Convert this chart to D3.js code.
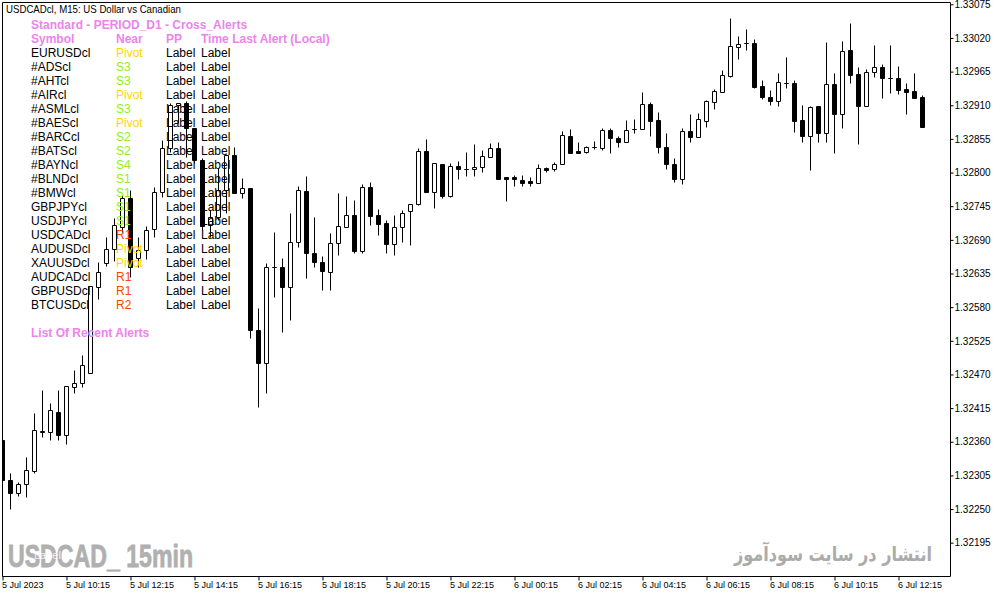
<!DOCTYPE html>
<html><head><meta charset="utf-8">
<script src="https://cdn.jsdelivr.net/npm/d3@7"></script>
<style>html,body{margin:0;padding:0;background:#fff;overflow:hidden}svg{display:block}</style>
</head><body>
<svg id="chart" width="1003" height="597"></svg>
<script>
// ---- data (USDCADcl M15) ----
const open = [1.32363,1.32297,1.32276,1.32291,1.32312,1.32376,1.32376,1.32409,1.32371,1.32449,1.32456,1.32472,1.32613,1.32652,1.32675,1.32711,1.32758,1.32660,1.32673,1.32708,1.32768,1.32840,1.32910,1.32914,1.32873,1.32820,1.32714,1.32727,1.32771,1.32829,1.32767,1.32775,1.32543,1.32489,1.32646,1.32646,1.32613,1.32686,1.32770,1.32668,1.32654,1.32637,1.32685,1.32711,1.32731,1.32672,1.32776,1.32731,1.32718,1.32683,1.32711,1.32737,1.32749,1.32835,1.32768,1.32814,1.32762,1.32811,1.32806,1.32806,1.32809,1.32825,1.32840,1.32793,1.32793,1.32788,1.32786,1.32783,1.32807,1.32806,1.32814,1.32860,1.32835,1.32834,1.32842,1.32840,1.32870,1.32856,1.32850,1.32871,1.32871,1.32912,1.32886,1.32842,1.32814,1.32789,1.32868,1.32858,1.32884,1.32915,1.32932,1.32958,1.33005,1.33012,1.33012,1.32941,1.32923,1.32917,1.32946,1.32946,1.32886,1.32860,1.32909,1.32865,1.32945,1.32896,1.33000,1.32961,1.32909,1.32964,1.32972,1.32955,1.32955,1.32937,1.32933,1.32923];
const high = [1.32366,1.32309,1.32294,1.32335,1.32407,1.32445,1.32423,1.32445,1.32451,1.32477,1.32502,1.32615,1.32654,1.32695,1.32726,1.32763,1.32771,1.32695,1.32713,1.32776,1.32853,1.32914,1.32914,1.32917,1.32873,1.32824,1.32739,1.32807,1.32830,1.32842,1.32791,1.32775,1.32579,1.32652,1.32703,1.32660,1.32734,1.32778,1.32794,1.32727,1.32664,1.32701,1.32767,1.32762,1.32755,1.32781,1.32785,1.32740,1.32722,1.32731,1.32739,1.32749,1.32840,1.32855,1.32816,1.32814,1.32816,1.32819,1.32834,1.32847,1.32837,1.32848,1.32850,1.32793,1.32796,1.32796,1.32793,1.32814,1.32809,1.32817,1.32868,1.32871,1.32850,1.32843,1.32852,1.32873,1.32873,1.32860,1.32886,1.32888,1.32932,1.32915,1.32899,1.32865,1.32824,1.32873,1.32896,1.32897,1.32919,1.32937,1.32968,1.33053,1.33023,1.33035,1.33018,1.32951,1.32935,1.32963,1.32989,1.32951,1.32910,1.32909,1.32909,1.33013,1.32963,1.33015,1.33044,1.32972,1.32969,1.33008,1.32977,1.33008,1.32974,1.32946,1.32963,1.32927];
const low = [1.32294,1.32250,1.32271,1.32270,1.32309,1.32368,1.32363,1.32363,1.32356,1.32440,1.32449,1.32472,1.32593,1.32647,1.32655,1.32703,1.32629,1.32646,1.32659,1.32695,1.32760,1.32834,1.32881,1.32825,1.32816,1.32706,1.32695,1.32722,1.32734,1.32767,1.32758,1.32530,1.32417,1.32440,1.32597,1.32539,1.32559,1.32678,1.32628,1.32646,1.32608,1.32608,1.32665,1.32711,1.32668,1.32668,1.32714,1.32698,1.32668,1.32665,1.32686,1.32682,1.32747,1.32768,1.32742,1.32758,1.32760,1.32789,1.32794,1.32794,1.32801,1.32825,1.32789,1.32753,1.32778,1.32778,1.32778,1.32783,1.32801,1.32803,1.32814,1.32832,1.32832,1.32832,1.32838,1.32837,1.32832,1.32842,1.32850,1.32865,1.32871,1.32860,1.32832,1.32806,1.32785,1.32781,1.32850,1.32858,1.32874,1.32904,1.32932,1.32956,1.32986,1.33000,1.32938,1.32920,1.32910,1.32909,1.32938,1.32866,1.32850,1.32804,1.32850,1.32850,1.32832,1.32873,1.32946,1.32847,1.32909,1.32956,1.32922,1.32930,1.32928,1.32896,1.32922,1.32874];
const close = [1.32297,1.32276,1.32291,1.32314,1.32379,1.32378,1.32412,1.32371,1.32451,1.32456,1.32485,1.32615,1.32637,1.32675,1.32714,1.32758,1.32646,1.32673,1.32706,1.32768,1.32840,1.32910,1.32914,1.32873,1.32820,1.32713,1.32727,1.32771,1.32829,1.32767,1.32775,1.32543,1.32489,1.32646,1.32646,1.32613,1.32686,1.32771,1.32668,1.32654,1.32639,1.32685,1.32713,1.32731,1.32672,1.32776,1.32729,1.32716,1.32683,1.32711,1.32734,1.32749,1.32835,1.32768,1.32816,1.32762,1.32811,1.32806,1.32806,1.32809,1.32827,1.32840,1.32789,1.32789,1.32789,1.32783,1.32783,1.32807,1.32804,1.32814,1.32861,1.32832,1.32832,1.32842,1.32842,1.32870,1.32856,1.32850,1.32870,1.32871,1.32912,1.32884,1.32842,1.32814,1.32789,1.32868,1.32858,1.32888,1.32917,1.32933,1.32959,1.33007,1.33010,1.33012,1.32940,1.32923,1.32917,1.32948,1.32946,1.32884,1.32860,1.32907,1.32865,1.32945,1.32896,1.32999,1.32959,1.32909,1.32964,1.32972,1.32955,1.32955,1.32935,1.32932,1.32922,1.32874];

const yTicks = [1.33075,1.33020,1.32965,1.32910,1.32855,1.32800,1.32745,1.32690,1.32635,1.32580,1.32525,1.32470,1.32415,1.32360,1.32305,1.32250,1.32195];
const xTickIndex = [0,8,16,24,32,40,48,56,64,72,80,88,96,104,112];
const xTickLabels = ["5 Jul 2023","5 Jul 10:15","5 Jul 12:15","5 Jul 14:15","5 Jul 16:15","5 Jul 18:15","5 Jul 20:15","5 Jul 22:15","6 Jul 00:15","6 Jul 02:15","6 Jul 04:15","6 Jul 06:15","6 Jul 08:15","6 Jul 10:15","6 Jul 12:15"];

const chartTitle = "USDCADcl, M15:  US Dollar vs Canadian";
const tableTitle = "Standard - PERIOD_D1 - Cross_Alerts";
const tableHeaders = ["Symbol","Near","PP","Time Last Alert (Local)"];
const symbols = ["EURUSDcl","#ADScl","#AHTcl","#AIRcl","#ASMLcl","#BAEScl","#BARCcl","#BATScl","#BAYNcl","#BLNDcl","#BMWcl","GBPJPYcl","USDJPYcl","USDCADcl","AUDUSDcl","XAUUSDcl","AUDCADcl","GBPUSDcl","BTCUSDcl"];
const nearLevels = ["Pivot","S3","S3","Pivot","S3","Pivot","S2","S2","S4","S1","S1","S1","S1","R1","Pivot","Pivot","R1","R1","R2"];
const ppValues = symbols.map(() => "Label");
const timeValues = symbols.map(() => "Label");
const recentTitle = "List Of Recent Alerts";
const watermarkLeft = "USDCAD_ 15min";
const watermarkRight = "انتشار در سایت سودآموز";

// ---- layout ----
const W = 1003, H = 597;
const frame = {left: 2, right: 950, top: 2, bottom: 576};
const svg = d3.select("#chart");
svg.append("rect").attr("width", W).attr("height", H).attr("fill", "#fff");

const x = d3.scaleLinear().domain([0, open.length - 1]).range([2, 2 + 8 * (open.length - 1)]);
const y = d3.scaleLinear().domain([1.32195, 1.33075]).range([542.7, 4.3]);
const py = v => Math.round(y(v)) + 0.5;

svg.append("defs").append("clipPath").attr("id", "plotClip")
  .append("rect").attr("x", frame.left).attr("y", frame.top)
  .attr("width", frame.right - frame.left).attr("height", frame.bottom - frame.top);

// watermarks (behind)
svg.append("text").attr("x", 8).attr("y", 567)
  .attr("font-family", "'Liberation Sans Narrow','Liberation Sans',Arial,sans-serif")
  .attr("font-weight", "bold").attr("font-size", 31).attr("fill", "#b0b0b0")
  .attr("stroke", "#b0b0b0").attr("stroke-width", 0.8)
  .attr("textLength", 185).attr("lengthAdjust", "spacingAndGlyphs")
  .text(watermarkLeft);
svg.append("text").attr("x", 34).attr("y", 559)
  .attr("font-family", "'Liberation Sans',Arial,sans-serif").attr("font-size", 11)
  .attr("fill", "#ffffff").attr("opacity", 0.85).text("Label");
svg.append("text").attr("x", 932).attr("y", 561).attr("text-anchor", "end")
  .attr("font-family", "'DejaVu Sans',sans-serif").attr("font-weight", "bold")
  .attr("font-size", 20).attr("fill", "#ababab")
  .attr("textLength", 198).attr("lengthAdjust", "spacingAndGlyphs")
  .text(watermarkRight);

// candles
const idx = d3.range(open.length);
const g = svg.append("g").attr("clip-path", "url(#plotClip)");
g.selectAll("line.wick").data(idx).join("line").attr("class", "wick")
  .attr("x1", i => x(i) + 0.5).attr("x2", i => x(i) + 0.5)
  .attr("y1", i => py(high[i])).attr("y2", i => py(low[i]))
  .attr("stroke", "#000").attr("stroke-width", 1);
g.selectAll("path.body").data(idx).join("path").attr("class", "body")
  .attr("d", i => {
    const t = py(Math.max(open[i], close[i])), b = py(Math.min(open[i], close[i]));
    const x0 = x(i) - 1.5, x1 = x(i) + 2.5;
    return `M${x0},${t}H${x1}V${b}H${x0}Z`;
  })
  .attr("fill", i => close[i] > open[i] ? "#fff" : "#000")
  .attr("stroke", "#000").attr("stroke-width", 1);

// frame
svg.append("path")
  .attr("d", `M${frame.left + 0.5},${frame.bottom + 0.5}V${frame.top + 0.5}H${frame.right + 0.5}V${frame.bottom + 0.5}H${frame.left + 0.5}`)
  .attr("fill", "none").attr("stroke", "#000").attr("stroke-width", 1);

// y axis
const yAxis = d3.axisRight(y).tickValues(yTicks).tickSize(3).tickPadding(1).tickFormat(d3.format(".5f"));
const ya = svg.append("g").attr("transform", `translate(${frame.right + 0.5},0)`).call(yAxis);
ya.select(".domain").remove();
ya.selectAll("line").attr("stroke", "#000");
ya.selectAll("text").attr("font-family", "'Liberation Sans',Arial,sans-serif").attr("font-size", 10).attr("fill", "#000");

// x axis
const xAxis = d3.axisBottom(x).tickValues(xTickIndex).tickSize(4).tickFormat((d, k) => xTickLabels[k]);
const xa = svg.append("g").attr("transform", `translate(0.5,${frame.bottom + 0.5})`).call(xAxis);
xa.select(".domain").remove();
xa.selectAll("line").attr("stroke", "#000");
xa.selectAll("text").attr("text-anchor", "start").attr("x", -1).attr("y", 5).attr("dy", "0.71em")
  .attr("font-family", "'Liberation Sans',Arial,sans-serif").attr("font-size", 9).attr("fill", "#000");

// chart title
svg.append("text").attr("x", 6).attr("y", 13)
  .attr("font-family", "'Liberation Sans',Arial,sans-serif").attr("font-size", 10.5)
  .attr("textLength", 175).attr("lengthAdjust", "spacingAndGlyphs")
  .attr("fill", "#000").text(chartTitle);

// alerts table
const violet = "#EE82EE";
const colX = [31, 116, 166, 201];
const font = "'Liberation Sans',Arial,sans-serif";
const tbl = svg.append("g").attr("font-family", font).attr("font-size", 12);
tbl.append("text").attr("x", colX[0]).attr("y", 29).attr("font-weight", "bold").attr("fill", violet).text(tableTitle);
tbl.selectAll("text.hdr").data(tableHeaders).join("text").attr("class", "hdr")
  .attr("x", (d, k) => colX[k]).attr("y", 43).attr("font-weight", "bold").attr("fill", violet).text(d => d);
const nearColor = v => v === "Pivot" ? "#FFD700" : (v[0] === "S" ? "#8CF01E" : "#FF4500");
const rowY = k => 57 + 14 * k;
tbl.selectAll("text.sym").data(symbols).join("text").attr("class", "sym")
  .attr("x", colX[0]).attr("y", (d, k) => rowY(k)).attr("fill", "#000").text(d => d);
tbl.selectAll("text.near").data(nearLevels).join("text").attr("class", "near")
  .attr("x", colX[1]).attr("y", (d, k) => rowY(k)).attr("fill", d => nearColor(d)).text(d => d);
tbl.selectAll("text.pp").data(ppValues).join("text").attr("class", "pp")
  .attr("x", colX[2]).attr("y", (d, k) => rowY(k)).attr("fill", "#000").text(d => d);
tbl.selectAll("text.tm").data(timeValues).join("text").attr("class", "tm")
  .attr("x", colX[3]).attr("y", (d, k) => rowY(k)).attr("fill", "#000").text(d => d);
tbl.append("text").attr("x", colX[0]).attr("y", 337).attr("font-weight", "bold").attr("fill", violet).text(recentTitle);
</script>
</body></html>
